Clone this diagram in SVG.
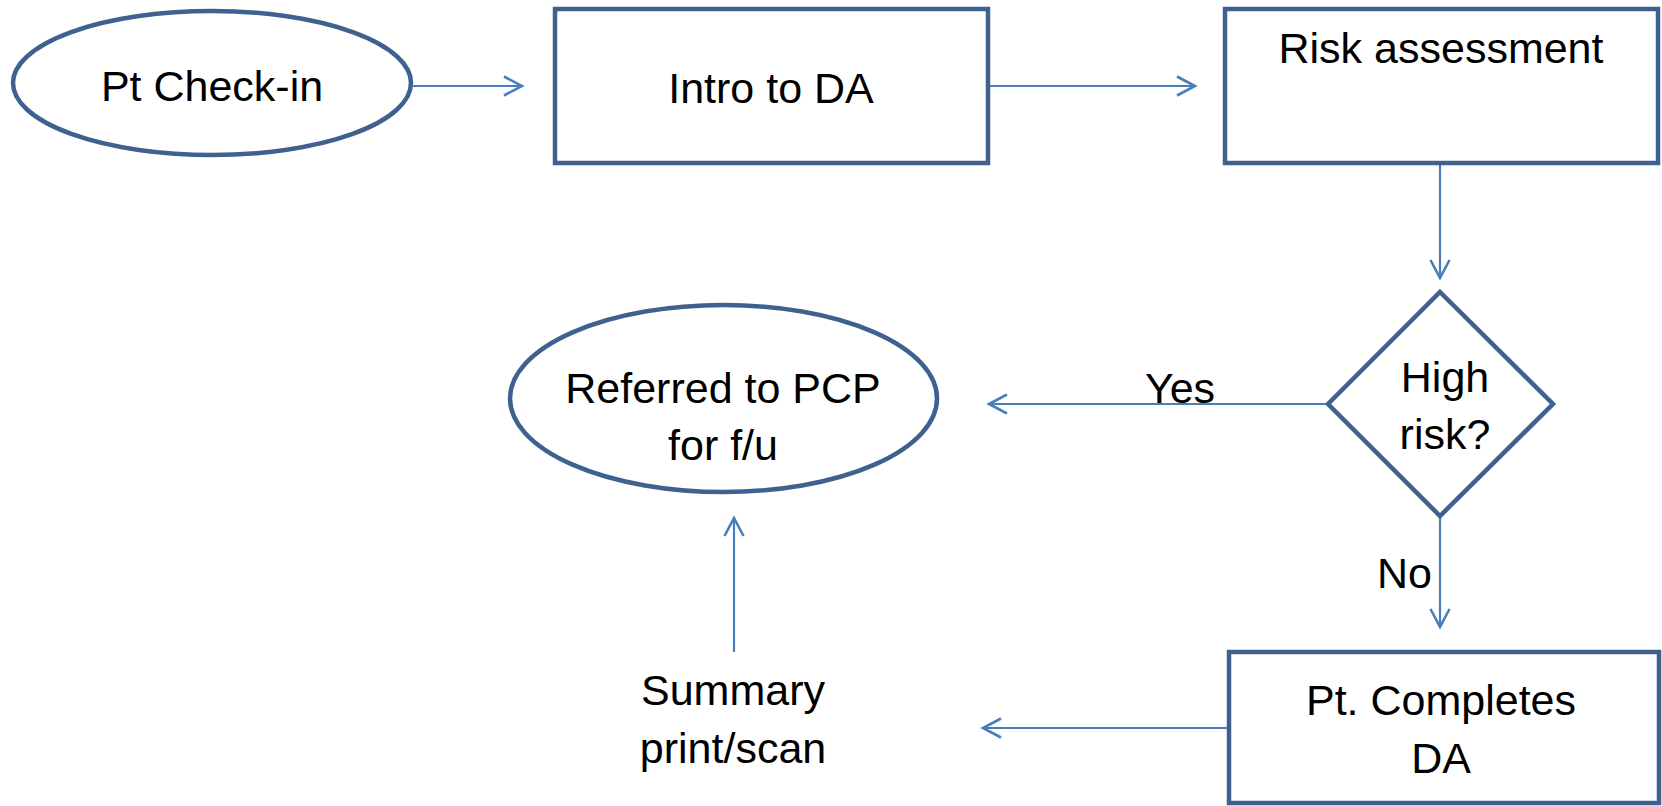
<svg xmlns="http://www.w3.org/2000/svg" width="1662" height="806" viewBox="0 0 1662 806">
  <style>
    .shape { fill: #ffffff; stroke: #3f6190; stroke-width: 4.5; stroke-linejoin: miter; }
    .label { font-family: "Liberation Sans", Arial, sans-serif; font-size: 43px; fill: #000000; text-anchor: middle; }
    .link { fill: none; stroke: #4a7ebb; stroke-width: 2.2; marker-end: url(#arrow); }
  </style>
  <defs>
    <marker id="arrow" markerUnits="userSpaceOnUse" markerWidth="24" markerHeight="24" refX="20" refY="11" orient="auto">
      <path d="M2,1.5 L20,11 L2,20.5" fill="none" stroke="#4a7ebb" stroke-width="2.6"/>
    </marker>
  </defs>

  <rect width="1662" height="806" fill="#ffffff"/>

  <g id="connectors">
    <line class="link" x1="413" y1="86" x2="522" y2="86"/>
    <line class="link" x1="989" y1="86" x2="1195" y2="86"/>
    <line class="link" x1="1440" y1="163" x2="1440" y2="278"/>
    <line class="link" x1="1328" y1="404" x2="989" y2="404"/>
    <line class="link" x1="1440" y1="516" x2="1440" y2="627"/>
    <line class="link" x1="1227" y1="728" x2="983" y2="728"/>
    <line class="link" x1="734" y1="652" x2="734" y2="518"/>
  </g>

  <g id="pt-check-in">
    <ellipse class="shape" cx="212" cy="83" rx="199" ry="72"/>
    <text class="label" x="212" y="101">Pt Check-in</text>
  </g>

  <g id="intro-to-da">
    <rect class="shape" x="555" y="9" width="433" height="154"/>
    <text class="label" x="771" y="103">Intro to DA</text>
  </g>

  <g id="risk-assessment">
    <rect class="shape" x="1225" y="9" width="433" height="154"/>
    <text class="label" x="1441" y="63">Risk assessment</text>
  </g>

  <g id="high-risk">
    <polygon class="shape" points="1440,292 1553,404 1440,516 1328,404"/>
    <text class="label" x="1445" y="392">High</text>
    <text class="label" x="1445" y="449">risk?</text>
  </g>

  <g id="yes-label">
    <text class="label" x="1180" y="403">Yes</text>
  </g>

  <g id="no-label">
    <text class="label" x="1432" y="588" style="text-anchor:end">No</text>
  </g>

  <g id="referred-to-pcp">
    <ellipse class="shape" cx="723.5" cy="398.5" rx="213.5" ry="93.5"/>
    <text class="label" x="723" y="403">Referred to PCP</text>
    <text class="label" x="723" y="460">for f/u</text>
  </g>

  <g id="pt-completes-da">
    <rect class="shape" x="1229" y="652" width="430" height="151"/>
    <text class="label" x="1441" y="715">Pt. Completes</text>
    <text class="label" x="1441" y="773">DA</text>
  </g>

  <g id="summary-print-scan">
    <text class="label" x="733" y="705">Summary</text>
    <text class="label" x="733" y="763">print/scan</text>
  </g>
</svg>
